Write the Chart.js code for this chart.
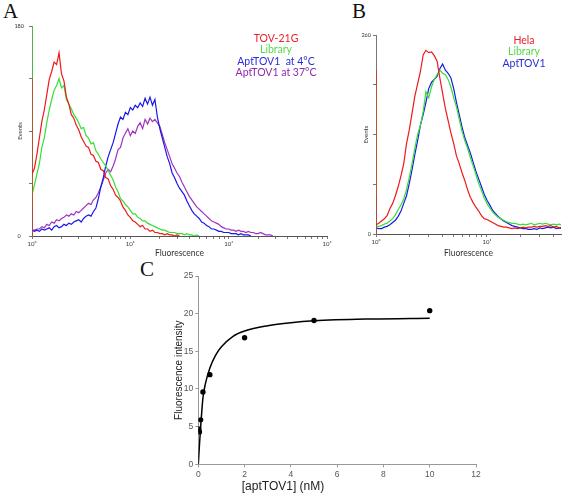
<!DOCTYPE html>
<html lang="en">
<head>
<meta charset="utf-8">
<title>AptTOV1 binding</title>
<script src="https://cdn.jsdelivr.net/npm/chart.js@4/dist/chart.umd.min.js"></script>
<style>
  html, body { margin: 0; padding: 0; background: #fff; }
  body { position: relative; width: 563px; height: 496px; overflow: hidden; font-family: Lato, "Open Sans", sans-serif; }
  .panel { position: absolute; }
  .panel canvas { position: absolute; left: 0; top: 0; }
  .letter { position: absolute; font-family: "Liberation Serif", serif; font-size: 21px; line-height: 21px; color: #111; }
  .legend { position: absolute; width: 110px; font-size: 10.5px; line-height: 11.3px; text-align: center; }
  #c-xtitle { position: absolute; left: 223px; top: 478px; width: 120px; text-align: center; font-family: "Liberation Sans", Arial, sans-serif; font-size: 12px; line-height: 16px; color: #222; }
</style>
</head>
<body>
<div class="letter" style="left:3px;top:1px">A</div>
<div class="letter" style="left:352px;top:1px">B</div>
<div class="letter" style="left:140px;top:259px">C</div>

<div class="panel" style="left:0;top:0;width:340px;height:265px"><canvas id="chart-a" width="340" height="265"></canvas></div>
<div class="panel" style="left:330px;top:0;width:233px;height:265px"><canvas id="chart-b" width="233" height="265"></canvas></div>
<div class="panel" style="left:140px;top:262px;width:350px;height:234px"><canvas id="chart-c" width="350" height="234"></canvas></div>
<div id="c-xtitle">[aptTOV1] (nM)</div>

<div class="legend" style="left:221px;top:33px">
  <div style="color:#e8202a">TOV-21G</div>
  <div style="color:#56d94a">Library</div>
  <div style="color:#2c2cd8">AptTOV1&nbsp; at 4°C</div>
  <div style="color:#8c2aa8">AptTOV1 at 37°C</div>
</div>
<div class="legend" style="left:469px;top:35px">
  <div style="color:#e8202a">Hela</div>
  <div style="color:#56d94a">Library</div>
  <div style="color:#2c2cd8">AptTOV1</div>
</div>

<script>
const decadeLabels = ['10\u2070', '10\u00b9', '10\u00b2', '10\u00b3'];

// --- Panel A: TOV-21G cells, events per channel (channels every 0.025 decade from 10^0) ---
const aStep = 0.025;
const aSeries = ['TOV-21G', 'Library', 'AptTOV1 at 4°C', 'AptTOV1 at 37°C'];
const aFirstChannel = [135, 200, 25, 33]; // off-scale pile-up in channel 0
const aTov21g = [53, 58, 70, 84, 98, 108, 121, 134, 141, 149, 147, 157, 139, 133, 119, 113, 104, 101, 95, 91,
  85, 81, 77, 76, 70, 69, 64, 63, 57, 56, 50, 49, 43, 40, 35, 33, 30, 25, 22, 18,
  16, 13, 12, 10, 8, 9, 6, 6, 4, 5, 3, 3, 2, 2, 1, 2, 1, 1, 0, 1, 0];
const aLibrary = [35, 44, 53, 62, 76, 84, 97, 108, 117, 125, 129, 135, 127, 129, 117, 113, 109, 104, 101, 97,
  92, 93, 86, 84, 79, 80, 73, 70, 66, 63, 60, 56, 52, 48, 42, 38, 32, 30, 27, 25,
  22, 19, 19, 16, 15, 13, 13, 11, 10, 9, 8, 7, 6, 5, 5, 4, 3, 3, 3, 2,
  2, 2, 1, 2, 1, 1, 0, 1, 0];
const aApt4 = [5, 4, 5, 4, 6, 5, 6, 7, 5, 8, 9, 7, 8, 10, 9, 11, 10, 12, 13, 14,
  12, 15, 17, 18, 17, 21, 24, 32, 42, 50, 60, 68, 74, 80, 88, 96, 102, 100, 106, 104,
  110, 108, 112, 110, 114, 111, 118, 113, 119, 112, 117, 102, 92, 84, 76, 68, 62, 54, 50, 45,
  41, 38, 35, 30, 26, 22, 19, 17, 15, 12, 11, 9, 8, 6, 6, 5, 4, 4, 3, 3,
  3, 2, 2, 2, 1, 2, 1, 1, 1, 0];
const aApt37 = [5, 5, 6, 6, 8, 7, 10, 9, 12, 11, 14, 13, 15, 16, 18, 17, 19, 18, 21, 20,
  22, 24, 26, 28, 27, 31, 33, 37, 42, 48, 54, 57, 55, 60, 66, 74, 76, 84, 88, 92,
  86, 90, 88, 94, 97, 92, 100, 96, 101, 98, 100, 97, 94, 87, 80, 74, 68, 62, 58, 54,
  51, 46, 42, 38, 34, 31, 28, 25, 23, 21, 19, 17, 15, 13, 12, 11, 10, 8, 7, 6,
  6, 5, 5, 4, 5, 4, 4, 3, 4, 3, 3, 2, 2, 3, 2, 1, 1, 1, 0];
const aYMax = 180;
const aXMax = 3;

// --- Panel B: Hela cells ---
const bStep = 0.025;
const bSeries = ['Hela', 'Library', 'AptTOV1'];
const bFirstChannel = [214, 195, 50];
const bHela = [12, 14, 17, 20, 24, 33, 40, 50, 62, 76, 92, 118, 136, 158, 180, 196, 212, 234, 240, 237,
  238, 233, 226, 204, 184, 164, 148, 132, 118, 102, 92, 80, 70, 58, 48, 41, 35, 30, 24, 20,
  19, 17, 15, 13, 11, 10, 9, 9, 8, 7, 8, 7, 8, 9, 8, 9, 9, 10, 9, 10,
  10, 11, 10, 11, 9, 10, 8, 9];
const bLibrary = [10, 10, 11, 13, 14, 17, 20, 25, 32, 38, 46, 58, 74, 92, 112, 130, 142, 160, 186, 178,
  192, 202, 208, 214, 210, 208, 202, 192, 178, 166, 150, 134, 122, 112, 100, 89, 78, 66, 57, 47,
  40, 34, 29, 25, 22, 20, 18, 16, 15, 14, 14, 13, 12, 13, 12, 13, 14, 12, 13, 14,
  13, 14, 13, 12, 13, 12, 13, 12];
const bApt = [8, 7, 7, 9, 10, 12, 15, 18, 23, 30, 40, 50, 66, 84, 104, 122, 142, 156, 172, 190,
  198, 202, 206, 216, 222, 214, 210, 204, 190, 172, 156, 140, 126, 116, 106, 94, 82, 72, 62, 52,
  44, 38, 31, 27, 23, 20, 17, 15, 13, 11, 10, 9, 8, 7, 7, 6, 6, 7, 6, 8,
  7, 8, 9, 8, 9, 7, 8, 7];
const bYMax = 260;
const bXMax = 1.667;

// --- Panel C: binding curve ---
const cConc = [0.02, 0.05, 0.1, 0.2, 0.5, 2, 5, 10];
const cIntensity = [4.7, 4.3, 5.9, 9.6, 11.9, 16.8, 19.1, 20.4];
const cFitConc = [0, 0.05, 0.1, 0.15, 0.2, 0.3, 0.5, 0.75, 1, 1.5, 2, 3, 4, 5, 7.5, 10];
const cFitIntensity = [0, 2.6, 4.9, 7.0, 8.8, 10.6, 12.8, 14.5, 15.6, 17.0, 17.7, 18.4, 18.8, 19.05, 19.3, 19.4];

const aColors = ['#f01818', '#33e033', '#1818e8', '#a332c2'];
const bColors = ['#f01818', '#33e033', '#1818e8'];

// first channel is drawn as a spike on the left edge, then one point per channel
function histogram(first, counts, step) {
    const pts = [{ x: 0, y: 0 }, { x: 0, y: first }];
    counts.forEach((c, i) => pts.push({ x: i * step, y: c }));
    return pts;
}

// log decade ticks (1..9 x 10^n) on an axis measured in decades
function decadeTicks(max) {
    const ticks = [];
    for (let d = 0; d <= 3; d++) {
        for (let k = 1; k <= 9; k++) {
            const v = d + Math.log10(k);
            if (v <= max + 1e-9) ticks.push({ value: v });
        }
    }
    return ticks;
}

function flowChart(id, cfg) {
    return new Chart(document.getElementById(id), {
        type: 'line',
        data: { datasets: cfg.datasets },
        options: {
            responsive: false,
            animation: false,
            layout: { padding: { top: cfg.top, right: cfg.right, left: 0, bottom: 0 } },
            plugins: { legend: { display: false }, tooltip: { enabled: false } },
            elements: { point: { radius: 0 }, line: { borderWidth: 1.2, tension: 0 } },
            scales: {
                x: {
                    type: 'linear', min: 0, max: cfg.xMax,
                    afterBuildTicks: s => { s.ticks = decadeTicks(cfg.xMax); },
                    afterFit: s => { s.height = cfg.xHeight; },
                    border: { color: '#555' },
                    grid: { drawOnChartArea: false, tickLength: 3, color: '#777' },
                    ticks: {
                        autoSkip: false, maxRotation: 0, padding: 1, color: '#333', font: { size: 6 },
                        callback: v => Number.isInteger(v) ? decadeLabels[v] : ''
                    },
                    title: { display: true, text: 'Fluorescence', color: '#333', font: { size: 8.5 }, padding: { top: 0, bottom: 6.9 } }
                },
                y: {
                    min: 0, max: cfg.yMax,
                    afterFit: s => { s.width = cfg.yWidth; },
                    border: { color: '#777' },
                    grid: { drawOnChartArea: false, tickLength: 3, color: '#777' },
                    ticks: {
                        stepSize: cfg.yMax / 4, autoSkip: false, padding: cfg.labelPad, crossAlign: cfg.cross,
                        color: '#333', font: { size: 5.5 },
                        callback: v => (v === 0 || v === cfg.yMax) ? v : ''
                    },
                    title: { display: true, text: 'Events', color: '#333', font: { size: 6 }, padding: { top: cfg.titlePad, bottom: 0 } }
                }
            }
        }
    });
}

document.addEventListener('DOMContentLoaded', () => {
    Chart.defaults.font.family = 'Lato, "Open Sans", sans-serif';

    // --- Panel A ---
    const aCounts = [aTov21g, aLibrary, aApt4, aApt37];
    flowChart('chart-a', {
        datasets: aSeries.map((name, i) => ({
            label: name,
            data: histogram(aFirstChannel[i], aCounts[i], aStep),
            borderColor: aColors[i]
        })),
        xMax: aXMax, yMax: aYMax,
        top: 26, right: 13, xHeight: 29, yWidth: 32,
        labelPad: 5, cross: 'center', titlePad: 16.4
    });

    // --- Panel B ---
    const bCounts = [bHela, bLibrary, bApt];
    flowChart('chart-b', {
        datasets: bSeries.map((name, i) => ({
            label: name,
            data: histogram(bFirstChannel[i], bCounts[i], bStep),
            borderColor: bColors[i]
        })),
        xMax: bXMax, yMax: bYMax,
        top: 35, right: 2, xHeight: 31, yWidth: 46,
        labelPad: 2, cross: 'near', titlePad: 32.4
    });

    // --- Panel C: Excel-style scatter with fitted curve ---
    const sans = '"Liberation Sans", Arial, sans-serif';
    new Chart(document.getElementById('chart-c'), {
        type: 'scatter',
        data: {
            datasets: [
                {
                    label: 'Measured',
                    data: cConc.map((x, i) => ({ x, y: cIntensity[i] })),
                    pointRadius: 2.7,
                    pointBackgroundColor: '#000',
                    pointBorderWidth: 0
                },
                {
                    type: 'line',
                    label: 'Fit',
                    data: cFitConc.map((x, i) => ({ x, y: cFitIntensity[i] })),
                    borderColor: '#000',
                    borderWidth: 1.5,
                    pointRadius: 0,
                    cubicInterpolationMode: 'monotone'
                }
            ]
        },
        options: {
            responsive: false,
            animation: false,
            layout: { padding: { top: 14, right: 14, left: 0, bottom: 0 } },
            plugins: { legend: { display: false }, tooltip: { enabled: false } },
            scales: {
                x: {
                    min: 0, max: 12,
                    afterFit: s => { s.height = 31.7; },
                    border: { color: '#999' },
                    grid: { drawOnChartArea: false, tickLength: 3, color: '#999' },
                    ticks: { stepSize: 2, padding: 2, color: '#555', font: { family: sans, size: 8.5 } }
                },
                y: {
                    min: 0, max: 25,
                    afterFit: s => { s.width = 58.3; },
                    border: { color: '#999' },
                    grid: { drawOnChartArea: false, tickLength: 3, color: '#999' },
                    ticks: { stepSize: 5, padding: 2, color: '#555', font: { family: sans, size: 8.5 } },
                    title: { display: true, text: 'Fluorescence intensity', color: '#222', font: { family: sans, size: 10 }, padding: { top: 33, bottom: 0 } }
                }
            }
        }
    });
});
</script>
</body>
</html>
